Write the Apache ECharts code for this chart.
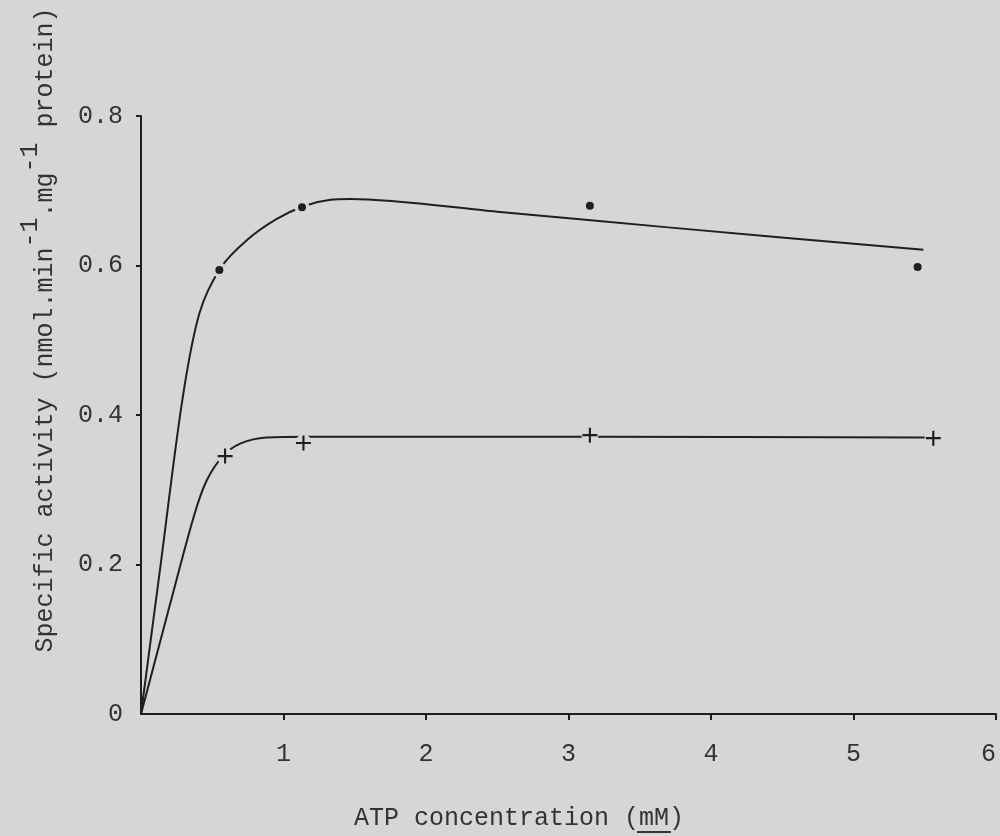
<!DOCTYPE html>
<html>
<head>
<meta charset="utf-8">
<script src="https://cdn.jsdelivr.net/npm/echarts@6/dist/echarts.min.js"></script>
<style>
  html, body { margin: 0; padding: 0; background: #d6d6d6; }
  #chart { width: 1000px; height: 836px; }
</style>
</head>
<body>
<div id="chart"></div>
<script>
// Measured points (filled circles)
const atpDots = [0.55, 1.13, 3.15, 5.45];
const activityDots = [0.594, 0.678, 0.680, 0.598];
// Measured points (crosses)
const atpPlus = [0.59, 1.14, 3.15, 5.56];
const activityPlus = [0.345, 0.3625, 0.373, 0.369];
// Hand-fitted curves through each set
const curveUpperX = [0, 0.14, 0.29, 0.41, 0.56, 0.75, 0.95, 1.15, 1.33, 1.47, 2.5, 3.7, 5.49];
const curveUpperY = [0, 0.203, 0.42, 0.536, 0.597, 0.635, 0.662, 0.68, 0.688, 0.689, 0.672, 0.651, 0.621];
const curveLowerX = [0, 0.2, 0.37, 0.46, 0.575, 0.7, 0.88, 1.2, 3.2, 5.5];
const curveLowerY = [0, 0.144, 0.264, 0.312, 0.345, 0.362, 0.370, 0.371, 0.371, 0.370];
// Axis ticks
const xTicks = [1, 2, 3, 4, 5, 6];
const yTicks = [0.2, 0.4, 0.6, 0.8];
const yLabels = [0, 0.2, 0.4, 0.6, 0.8];

const PAPER = '#d6d6d6';
const INK = '#1f1f1f';
const TEXT = '#333333';
const FONT = '"Liberation Mono", "DejaVu Sans Mono", monospace';
const FS = 25;

const pairs = (xs, ys) => xs.map((x, i) => [x, ys[i]]);
const CROSS = 'path://M-1,-7L1,-7L1,-1L7,-1L7,1L1,1L1,7L-1,7L-1,1L-7,1L-7,-1L-1,-1Z';

const chart = echarts.init(document.getElementById('chart'), null, { renderer: 'canvas' });

chart.setOption({
  backgroundColor: PAPER,
  animation: false,
  grid: { left: 141, right: 4, top: 116, bottom: 122, containLabel: false, outerBoundsMode: 'none' },
  xAxis: {
    type: 'value', min: 0, max: 6, interval: 1,
    axisLine: { show: true, onZero: false, lineStyle: { color: INK, width: 2 } },
    axisTick: { show: true, customValues: xTicks, length: 6, lineStyle: { color: INK, width: 2 } },
    axisLabel: {
      customValues: xTicks, margin: 28, color: TEXT, fontFamily: FONT, fontSize: FS,
      alignMaxLabel: 'right'
    },
    splitLine: { show: false }
  },
  yAxis: {
    type: 'value', min: 0, max: 0.8, interval: 0.2,
    axisLine: { show: true, onZero: false, lineStyle: { color: INK, width: 2 } },
    axisTick: { show: true, customValues: yTicks, length: 5, lineStyle: { color: INK, width: 2 } },
    axisLabel: {
      customValues: yLabels, margin: 18, color: TEXT, fontFamily: FONT, fontSize: FS,
      formatter: v => (v === 0 ? '0' : v.toFixed(1))
    },
    splitLine: { show: false }
  },
  series: [
    {
      type: 'line', data: pairs(curveUpperX, curveUpperY), smooth: 0.3,
      showSymbol: false, lineStyle: { color: INK, width: 2 }, z: 2
    },
    {
      type: 'line', data: pairs(curveLowerX, curveLowerY), smooth: 0.3,
      showSymbol: false, lineStyle: { color: INK, width: 2 }, z: 2
    },
    // paper-coloured halos break the curves around each mark
    {
      type: 'scatter', data: pairs(atpDots, activityDots), symbol: 'circle', symbolSize: 15,
      itemStyle: { color: PAPER, opacity: 1 }, z: 3, silent: true
    },
    {
      type: 'scatter', data: pairs(atpPlus, activityPlus), symbol: 'circle', symbolSize: 17,
      itemStyle: { color: PAPER, opacity: 1 }, z: 3, silent: true
    },
    {
      type: 'scatter', data: pairs(atpDots, activityDots), symbol: 'circle', symbolSize: 8,
      itemStyle: { color: INK, opacity: 1 }, z: 4
    },
    {
      type: 'scatter', data: pairs(atpPlus, activityPlus), symbol: CROSS, symbolSize: 15,
      itemStyle: { color: INK, opacity: 1 }, z: 4
    }
  ],
  graphic: [
    {
      type: 'text', x: 38, y: 330, rotation: Math.PI / 2,
      style: {
        text: '{n|Specific activity (nmol.min}{s|-1}{n|.mg}{s|-1}{n| protein)}',
        align: 'center', verticalAlign: 'middle',
        rich: {
          n: { fontFamily: FONT, fontSize: FS, fill: TEXT, lineHeight: 40, verticalAlign: 'bottom' },
          s: { fontFamily: FONT, fontSize: FS, fill: TEXT, lineHeight: 40, verticalAlign: 'top' }
        }
      }
    },
    {
      type: 'group', x: 519, y: 818,
      children: [
        {
          type: 'text', x: 0, y: 0,
          style: {
            text: 'ATP concentration (mM)', fontFamily: FONT, fontSize: FS, fill: TEXT,
            align: 'center', verticalAlign: 'middle'
          }
        },
        {
          type: 'line', shape: { x1: 118, y1: 14, x2: 152, y2: 14 },
          style: { stroke: TEXT, lineWidth: 2 }
        }
      ]
    }
  ]
});
</script>
</body>
</html>
